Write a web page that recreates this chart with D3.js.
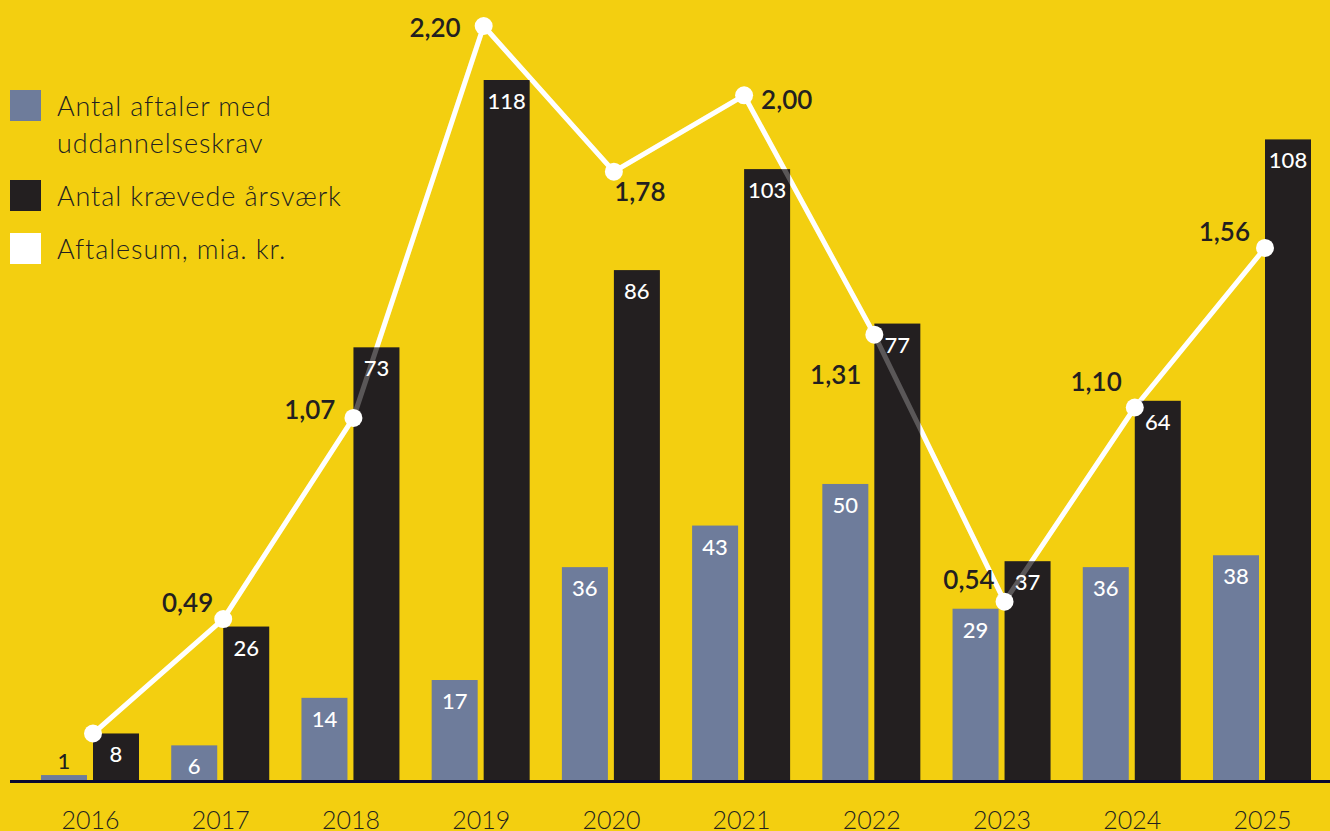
<!DOCTYPE html>
<html lang="da">
<head>
<meta charset="utf-8">
<script src="https://cdn.jsdelivr.net/npm/d3@7"></script>
<style>
  html, body { margin: 0; padding: 0; background: #F3CF10; }
  svg { display: block; }
  text { font-family: Lato, "Open Sans", sans-serif; }
</style>
</head>
<body>
<svg id="chart" width="1330" height="831"></svg>
<script>
// Årstal på x-aksen
const years = ["2016", "2017", "2018", "2019", "2020", "2021", "2022", "2023", "2024", "2025"];
// Antal aftaler med uddannelseskrav
const agreements = [1, 6, 14, 17, 36, 43, 50, 29, 36, 38];
// Antal krævede årsværk
const fte = [8, 26, 73, 118, 86, 103, 77, 37, 64, 108];
// Aftalesum, mia. kr. (2016 uden etiket)
const sums = [0.16, 0.49, 1.07, 2.20, 1.78, 2.00, 1.31, 0.54, 1.10, 1.56];
const sumLabels = [null, "0,49", "1,07", "2,20", "1,78", "2,00", "1,31", "0,54", "1,10", "1,56"];
// Forklaringstekster
const legendItems = [
  { lines: ["Antal aftaler med", "uddannelseskrav"], color: "#6E7C9B" },
  { lines: ["Antal krævede årsværk"], color: "#231F20" },
  { lines: ["Aftalesum, mia. kr."], color: "#FFFFFF" }
];

const colBlue = "#6E7C9B", colBlack = "#231F20", colText = "#231F20";
const svg = d3.select("#chart");
const baseY = 781;

// Grupper pr. år
const x = d3.scalePoint().domain(years).range([90, 1262]);
const barW = 46, gap = 3;
const yBar = d3.scaleLinear().domain([0, 118]).range([baseY, 80]);
const yLine = d3.scaleLinear().domain([0, 2.2]).range([789, 26]);

// Aftalesum-linjen (under søjlerne)
const pts = years.map((yr, i) => [x(yr) + gap, yLine(sums[i])]);
const line = d3.line();
svg.append("path").attr("d", line(pts))
  .attr("fill", "none").attr("stroke", "#fff").attr("stroke-width", 5)
  .attr("stroke-linejoin", "round");

// Søjler: aftaler
svg.append("g").selectAll("rect").data(agreements).join("rect")
  .attr("x", (d, i) => x(years[i]) - gap - barW)
  .attr("y", d => yBar(d))
  .attr("width", barW)
  .attr("height", d => baseY - yBar(d))
  .attr("fill", colBlue);

// Søjler: årsværk
svg.append("g").selectAll("rect").data(fte).join("rect")
  .attr("x", (d, i) => x(years[i]) + gap)
  .attr("y", d => yBar(d))
  .attr("width", barW)
  .attr("height", d => baseY - yBar(d))
  .attr("fill", colBlack);

// Linjen skinner svagt igennem de mørke søjler
svg.append("path").attr("d", line(pts))
  .attr("fill", "none").attr("stroke", "#fff").attr("stroke-width", 5)
  .attr("stroke-opacity", 0.25).attr("stroke-linejoin", "round");

// Grundlinje
svg.append("line").attr("x1", 10).attr("x2", 1330)
  .attr("y1", baseY + 0.5).attr("y2", baseY + 0.5)
  .attr("stroke", "#0B0A30").attr("stroke-width", 3);

// Punkter
svg.append("g").selectAll("circle").data(pts).join("circle")
  .attr("cx", d => d[0]).attr("cy", d => d[1]).attr("r", 9).attr("fill", "#fff");

// Værdier i søjler
function barLabel(data, offset) {
  svg.append("g").selectAll("text").data(data).join("text")
    .attr("x", (d, i) => x(years[i]) + offset)
    .attr("y", d => (baseY - yBar(d) < 30) ? yBar(d) - 6 : yBar(d) + 29)
    .attr("text-anchor", "middle")
    .attr("font-size", 22).attr("font-weight", 500)
    .attr("fill", d => (baseY - yBar(d) < 30) ? colText : "#fff")
    .text(d => d);
}
barLabel(agreements, -gap - barW / 2);
barLabel(fte, gap + barW / 2);

// Etiketter for aftalesum
const place = {
  "0,49": { dx: -10, dy: -7, anchor: "end" },
  "1,07": { dx: -18, dy: 1, anchor: "end" },
  "2,20": { dx: -23, dy: 11, anchor: "end" },
  "1,78": { dx: 26, dy: 29, anchor: "middle" },
  "2,00": { dx: 17, dy: 14, anchor: "start" },
  "1,31": { dx: -13, dy: 49, anchor: "end" },
  "0,54": { dx: -10, dy: -13, anchor: "end" },
  "1,10": { dx: -13, dy: -17, anchor: "end" },
  "1,56": { dx: -15, dy: -7, anchor: "end" }
};
svg.append("g").selectAll("text").data(sumLabels.map((l, i) => ({ l, p: pts[i] })).filter(d => d.l))
  .join("text")
  .attr("x", d => d.p[0] + place[d.l].dx)
  .attr("y", d => d.p[1] + place[d.l].dy)
  .attr("text-anchor", d => place[d.l].anchor)
  .attr("font-family", "'Open Sans', Lato, sans-serif")
  .attr("font-size", 26).attr("font-weight", 600)
  .attr("fill", colText)
  .text(d => d.l);

// X-akse med årstal
const xAxis = svg.append("g").attr("transform", `translate(0,${baseY})`)
  .call(d3.axisBottom(x).tickSize(0).tickPadding(0));
xAxis.select(".domain").remove();
xAxis.selectAll("text")
  .attr("y", 48).attr("dy", null)
  .attr("font-size", 25).attr("font-weight", 300)
  .attr("font-family", "Lato, 'Open Sans', sans-serif")
  .attr("fill", colText);

// Forklaring
const legend = svg.append("g");
const legendTop = [90, 180, 233];
legendItems.forEach((item, k) => {
  const g = legend.append("g").attr("transform", `translate(10,${legendTop[k]})`);
  g.append("rect").attr("width", 31).attr("height", 31).attr("fill", item.color);
  item.lines.forEach((t, j) => {
    g.append("text").attr("x", 47).attr("y", 26 + j * 37)
      .attr("font-family", "'Open Sans', Lato, sans-serif")
      .attr("font-size", 27).attr("font-weight", 300)
      .attr("letter-spacing", 0.9).attr("fill", colText)
      .text(t);
  });
});
</script>
</body>
</html>
